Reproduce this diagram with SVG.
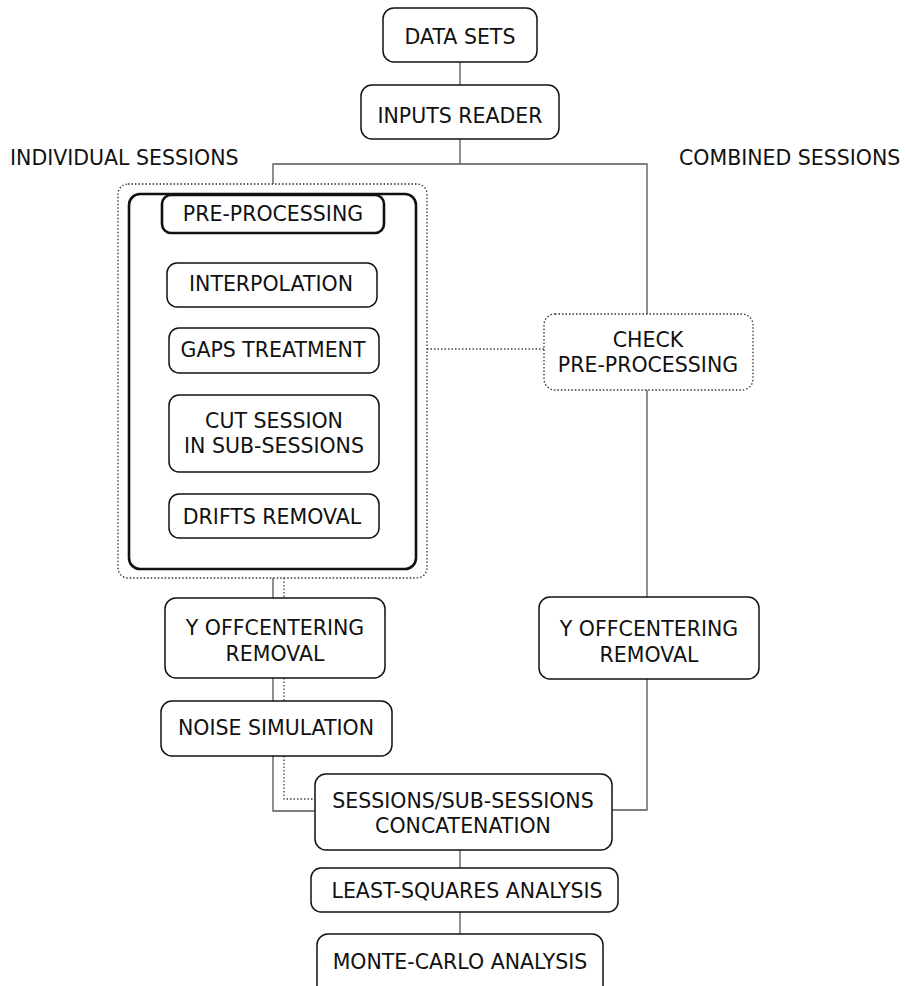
<svg xmlns="http://www.w3.org/2000/svg" width="905" height="986" viewBox="0 0 905 986">
<style>
.box{fill:#fff;stroke:#111;stroke-width:1.5}
.thick{fill:#fff;stroke:#111;stroke-width:2.6}
.dbox{fill:#fff;stroke:#333;stroke-width:1.3;stroke-dasharray:1.5 2}
.ln{fill:none;stroke:#555;stroke-width:1.3}
.dl{fill:none;stroke:#444;stroke-width:1.3;stroke-dasharray:1.5 2}
text{font-family:"DejaVu Sans",sans-serif;font-size:20.5px;fill:#111;text-anchor:middle}
.lab{text-anchor:start}
</style>
<rect width="905" height="986" fill="#fff"/>
<g id="connectors">
<line class="ln" x1="460" y1="62" x2="460" y2="85"/>
<polyline class="ln" points="273,184 273,164 647,164 647,314"/>
<line class="ln" x1="460" y1="139" x2="460" y2="164"/>
<line class="ln" x1="647" y1="390" x2="647" y2="597"/>
<polyline class="ln" points="647,679 647,810 612,810"/>
<line class="dl" x1="427" y1="349" x2="544" y2="349"/>
<line class="ln" x1="273" y1="578" x2="273" y2="598"/>
<line class="dl" x1="284" y1="578" x2="284" y2="598"/>
<line class="ln" x1="273" y1="678" x2="273" y2="701"/>
<line class="dl" x1="284" y1="678" x2="284" y2="701"/>
<polyline class="ln" points="273,756 273,811 315,811"/>
<polyline class="dl" points="284,756 284,799 315,799"/>
<line class="ln" x1="460" y1="850" x2="460" y2="868"/>
<line class="ln" x1="460" y1="912" x2="460" y2="934"/>
</g>
<g id="label-individual"><text class="lab" x="10" y="165">INDIVIDUAL SESSIONS</text></g>
<g id="label-combined"><text class="lab" x="679" y="165">COMBINED SESSIONS</text></g>
<g id="data-sets"><rect class="box" x="383" y="8" width="154" height="54" rx="11"/><text x="460" y="44">DATA SETS</text></g>
<g id="inputs-reader"><rect class="box" x="361" y="85" width="198" height="54" rx="11"/><text x="460" y="123">INPUTS READER</text></g>
<g id="individual-group">
<rect class="dbox" x="118" y="184" width="309" height="394" rx="10"/>
<rect class="thick" x="129" y="194" width="287" height="375" rx="11"/>
</g>
<g id="pre-processing"><rect class="thick" x="162" y="195" width="222" height="38" rx="9"/><text x="273" y="221">PRE-PROCESSING</text></g>
<g id="interpolation"><rect class="box" x="167" y="263" width="210" height="44" rx="10"/><text x="271" y="291">INTERPOLATION</text></g>
<g id="gaps-treatment"><rect class="box" x="169" y="328" width="210" height="45" rx="10"/><text x="273" y="357">GAPS TREATMENT</text></g>
<g id="cut-session"><rect class="box" x="169" y="395" width="210" height="77" rx="10"/><text x="274" y="428">CUT SESSION</text><text x="274" y="453">IN SUB-SESSIONS</text></g>
<g id="drifts-removal"><rect class="box" x="169" y="494" width="210" height="44" rx="10"/><text x="272" y="524">DRIFTS REMOVAL</text></g>
<g id="check-pre-processing"><rect class="dbox" x="544" y="314" width="209" height="76" rx="11"/><text x="648" y="347">CHECK</text><text x="648" y="372">PRE-PROCESSING</text></g>
<g id="y-offcentering-left"><rect class="box" x="165" y="598" width="220" height="80" rx="11"/><text x="275" y="635">Y OFFCENTERING</text><text x="275" y="661">REMOVAL</text></g>
<g id="y-offcentering-right"><rect class="box" x="539" y="597" width="220" height="82" rx="11"/><text x="649" y="636">Y OFFCENTERING</text><text x="649" y="662">REMOVAL</text></g>
<g id="noise-simulation"><rect class="box" x="161" y="701" width="231" height="55" rx="11"/><text x="276" y="735">NOISE SIMULATION</text></g>
<g id="concatenation"><rect class="box" x="315" y="774" width="297" height="76" rx="11"/><text x="463" y="808">SESSIONS/SUB-SESSIONS</text><text x="463" y="833">CONCATENATION</text></g>
<g id="least-squares"><rect class="box" x="311" y="868" width="307" height="44" rx="10"/><text x="467" y="898">LEAST-SQUARES ANALYSIS</text></g>
<g id="monte-carlo"><rect class="box" x="317" y="934" width="286" height="66" rx="11"/><text x="460" y="969">MONTE-CARLO ANALYSIS</text></g>
</svg>
